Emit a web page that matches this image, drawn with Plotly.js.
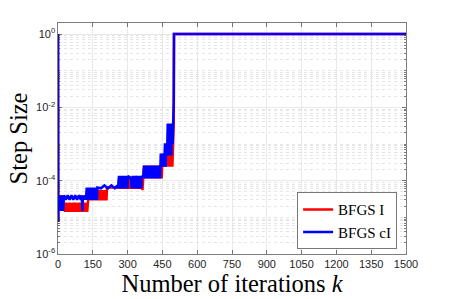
<!DOCTYPE html>
<html>
<head>
<meta charset="utf-8">
<script src="https://cdn.plot.ly/plotly-3.0.1.min.js"></script>
<style>html,body{margin:0;padding:0;background:#fff;}#chart{width:449px;height:299px;}</style>
</head>
<body>
<div id="chart"></div>
<script>
// BFGS cI (blue) : iteration k and step size
const blueIter = [0,1,2,6,10,14,18,22,26,34,42,50,58,66,74,82,90,98,102,105,108,112,116,
  120,124,128,132,136,140,144,148,152,156,160,164,168,170,185,200,215,230,245,255,
  259,263,267,271,275,279,283,287,291,295,299,302,315,318,322,326,330,334,336,341,344,348,352,356,359,360,367,
  371,375,379,383,387,391,395,399,403,407,411,415,419,423,427,431,435,440,
  443,446,449,452,455,458,461,464,467,470,473,476,479,482,485,488,491,494,497,499,500,1500];
const blueStep = [1,7.5e-6,4e-5,1.5e-5,4e-5,1.5e-5,4e-5,1.5e-5,4e-5,3e-5,4e-5,3e-5,4e-5,3e-5,4e-5,3e-5,4e-5,3e-5,4e-5,1.5e-5,4e-5,3e-5,4e-5,
  3e-5,6.5e-5,3e-5,6.5e-5,3e-5,6.5e-5,3e-5,6.5e-5,3e-5,6.5e-5,3e-5,6.5e-5,3e-5,6.5e-5,6.2e-5,7.4e-5,6.2e-5,7.4e-5,6.2e-5,7.4e-5,
  6.2e-5,1.35e-4,6.2e-5,1.35e-4,6.2e-5,1.35e-4,6.2e-5,1.35e-4,6.2e-5,1.35e-4,6.2e-5,1.35e-4,1.15e-4,6.2e-5,1.35e-4,6.2e-5,1.35e-4,6.2e-5,1.35e-4,1.15e-4,6.2e-5,1.35e-4,6.2e-5,1.35e-4,6.2e-5,1.35e-4,1.2e-4,
  2.6e-4,1.15e-4,2.6e-4,1.15e-4,2.6e-4,1.15e-4,2.6e-4,1.15e-4,2.6e-4,1.15e-4,2.6e-4,1.15e-4,2.6e-4,1.15e-4,2.6e-4,1.15e-4,2.6e-4,1.15e-4,
  5.5e-4,2.4e-4,5.5e-4,2.4e-4,5.5e-4,2.4e-4,1.05e-3,2.4e-4,1.05e-3,4.9e-4,3.6e-3,4.9e-4,3.6e-3,4.9e-4,3.6e-3,4.9e-4,3.6e-3,1e-3,3.6e-3,1.5e-2,1,1];

// BFGS I (red) : iteration k and step size
const redIter = [0,1,2,6,10,14,18,22,26,30,34,38,42,46,50,54,58,62,66,70,74,78,82,86,90,94,98,102,106,110,114,118,122,126,129,
  133,137,141,145,149,153,157,161,165,169,173,177,181,185,189,193,197,201,205,209,211,260,
  264,268,272,276,280,284,288,292,296,300,304,308,312,316,320,324,328,332,336,340,344,348,352,356,360,364,367,
  371,375,379,383,387,391,395,399,403,407,411,415,419,423,427,431,435,439,443,447,
  451,455,459,463,467,471,475,478,481,484,487,490,493,496,499,500,1500];
const redStep = [1,7.5e-6,4e-5,1.5e-5,4e-5,1.5e-5,4e-5,1.5e-5,2.5e-5,1.4e-5,2.5e-5,1.4e-5,2.5e-5,1.4e-5,2.5e-5,1.4e-5,2.5e-5,1.4e-5,2.5e-5,1.4e-5,2.5e-5,1.4e-5,2.5e-5,1.4e-5,2.5e-5,1.4e-5,2.5e-5,1.4e-5,2.5e-5,1.4e-5,2.5e-5,1.4e-5,2.5e-5,1.4e-5,2.9e-5,
  5.5e-5,2.9e-5,5.5e-5,2.9e-5,5.5e-5,2.9e-5,5.5e-5,2.9e-5,5.5e-5,2.9e-5,5.5e-5,2.9e-5,5.5e-5,2.9e-5,5.5e-5,2.9e-5,5.5e-5,2.9e-5,5.5e-5,2.9e-5,6.5e-5,6.5e-5,
  1.3e-4,6e-5,1.3e-4,6e-5,1.3e-4,6e-5,1.3e-4,6e-5,1.3e-4,6e-5,1.3e-4,6e-5,1.3e-4,6e-5,1.3e-4,6e-5,1.3e-4,6e-5,1.3e-4,6e-5,1.3e-4,6e-5,1.3e-4,6e-5,1.3e-4,5.5e-5,1.3e-4,
  2.6e-4,1.15e-4,2.6e-4,1.15e-4,2.6e-4,1.15e-4,2.6e-4,1.15e-4,2.6e-4,1.15e-4,2.6e-4,1.15e-4,2.6e-4,1.15e-4,2.6e-4,1.15e-4,2.6e-4,1.15e-4,2.6e-4,1.15e-4,
  5.5e-4,2.4e-4,5.5e-4,2.4e-4,5.5e-4,2.4e-4,5.5e-4,1.05e-3,2.4e-4,1.05e-3,2.4e-4,1.05e-3,2.4e-4,1.05e-3,4e-3,1,1];

const seriesNames = ['BFGS I', 'BFGS cI'];
const xTickVals = [0,150,300,450,600,750,900,1050,1200,1350,1500];
const yTickVals = [1e-6,1e-4,1e-2,1];
const yTickText = ['10<sup>-6</sup>','10<sup>-4</sup>','10<sup>-2</sup>','10<sup>0</sup>'];

const minorY = [];
for (let e = -6; e <= 0; e++) {
  for (let m = 1; m <= 9; m++) {
    const v = m * Math.pow(10, e);
    if (v > 2) continue;
    if (m === 1 && e % 2 === 0) continue;
    minorY.push(v);
  }
}

const traces = [
  {x: redIter, y: redStep, name: seriesNames[0], type: 'scatter', mode: 'lines',
   line: {color: '#ff0000', width: 2.5}},
  {x: blueIter, y: blueStep, name: seriesNames[1], type: 'scatter', mode: 'lines',
   line: {color: '#0000ff', width: 2.5}}
];

const axisFont = {family: 'Liberation Sans, Arial, sans-serif', size: 11, color: '#262626'};
const layout = {
  width: 449, height: 299,
  margin: {l: 58, r: 43, t: 23, b: 45, pad: 0},
  paper_bgcolor: '#ffffff', plot_bgcolor: '#ffffff',
  showlegend: true,
  xaxis: {
    range: [0, 1500], tickvals: xTickVals, ticktext: xTickVals.map(String),
    ticks: 'inside', ticklen: 4, tickcolor: '#262626', tickwidth: 0.6,
    mirror: 'allticks', showline: true, linecolor: '#262626', linewidth: 0.6,
    showgrid: true, gridcolor: '#e3e3e3', gridwidth: 0.8, zeroline: false,
    tickfont: axisFont,
    title: {text: 'Number of iterations <i>k</i>', standoff: 1,
            font: {family: 'Liberation Serif, Times New Roman, serif', size: 24.5, color: '#000'}}
  },
  yaxis: {
    type: 'log', range: [-6, 0.301], tickvals: yTickVals, ticktext: yTickText,
    ticks: 'inside', ticklen: 4, tickcolor: '#262626', tickwidth: 0.6,
    mirror: 'allticks', showline: true, linecolor: '#262626', linewidth: 0.6,
    showgrid: true, gridcolor: '#e3e3e3', gridwidth: 0.8, zeroline: false,
    tickfont: axisFont,
    minor: {tickmode: 'array', tickvals: minorY, ticks: 'inside', ticklen: 2, tickcolor: '#262626',
            showgrid: true, gridcolor: '#d6d6d6', griddash: 'dot', gridwidth: 0.6},
    title: {text: 'Step Size', standoff: 1,
            font: {family: 'Liberation Serif, Times New Roman, serif', size: 24.5, color: '#000'}}
  },
  legend: {
    x: 0.975, xanchor: 'right', y: 0.02, yanchor: 'bottom',
    bgcolor: '#ffffff', bordercolor: '#555555', borderwidth: 0.8,
    font: {family: 'Liberation Serif, Times New Roman, serif', size: 15, color: '#000'},
    tracegroupgap: 0, itemwidth: 30
  }
};

Plotly.newPlot('chart', traces, layout, {staticPlot: true, displayModeBar: false});
</script>
</body>
</html>
